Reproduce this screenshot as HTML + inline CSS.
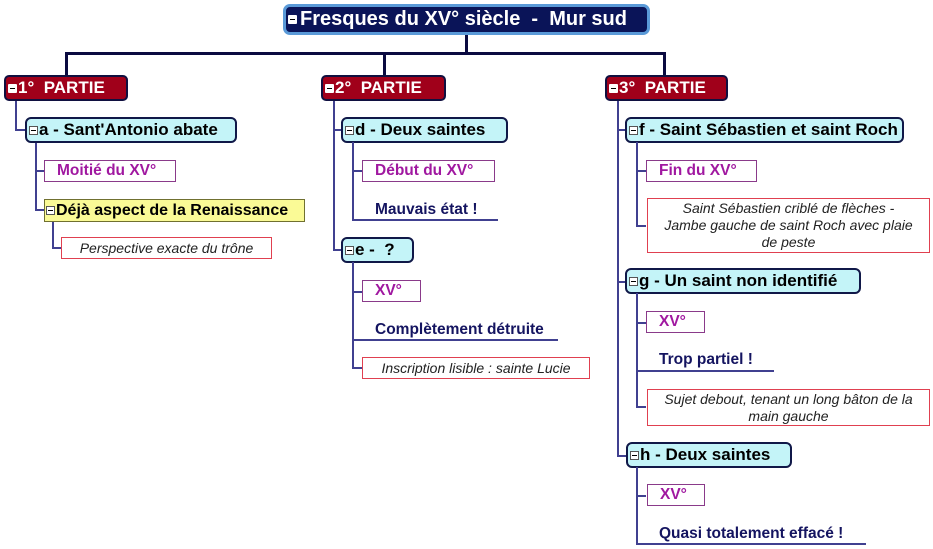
<!DOCTYPE html>
<html><head><meta charset="utf-8"><style>
body{margin:0;width:933px;height:549px;background:#fff;position:relative;overflow:hidden;font-family:"Liberation Sans",sans-serif;}
div{position:absolute;box-sizing:border-box;white-space:nowrap;}
.l{background:#404090;}
.lb{background:#0a0a40;}
.root{left:283px;top:4px;width:367px;height:31px;background:#0a1458;border:3px solid #5a9ad8;border-radius:7px;color:#fff;font-weight:bold;font-size:20px;line-height:25px;padding-left:14px;}
.p{height:26px;background:#a0001a;border:2px solid #101040;border-radius:5px;color:#fff;font-weight:bold;font-size:17px;line-height:22px;padding-left:12px;}
.c{height:26px;background:#c4f4f8;border:2px solid #101848;border-radius:6px;color:#000;font-weight:bold;font-size:17px;line-height:22px;padding-left:12px;}
.m{height:22px;background:#fff;border:1px solid #8a3a8a;color:#a018a0;font-weight:bold;font-size:15.5px;line-height:20px;padding-left:12px;}
.n{border:1px solid #e04050;color:#222;font-style:italic;font-size:14px;line-height:17px;text-align:center;background:#fff;}
.t{color:#141460;font-weight:bold;font-size:15.5px;}
.u{height:2px;background:#404090;}
.ic{width:9px;height:9px;border:1px solid #555;background:#fff;top:7px;left:2px;}
.ic:after{content:"";position:absolute;left:1px;top:3px;width:5px;height:1px;background:#000;}
.icw{width:9px;height:9px;background:#fff;top:7px;left:2px;border-radius:1px;}
.icw:after{content:"";position:absolute;left:2px;top:4px;width:5px;height:1px;background:#000;}
</style></head><body>
<div class="lb" style="left:465px;top:35px;width:3px;height:19px"></div>
<div class="lb" style="left:65px;top:52px;width:601px;height:3px"></div>
<div class="lb" style="left:65px;top:52px;width:3px;height:24px"></div>
<div class="lb" style="left:383px;top:52px;width:3px;height:24px"></div>
<div class="lb" style="left:663px;top:52px;width:3px;height:24px"></div>

<div class="root"><div class="icw" style="top:8px"></div>Fresques du XV° siècle &nbsp;- &nbsp;Mur sud</div>

<!-- Partie 1 -->
<div class="l" style="left:15px;top:100px;width:2px;height:30px"></div>
<div class="l" style="left:15px;top:129px;width:12px;height:2px"></div>
<div class="p" style="left:4px;top:75px;width:124px"><div class="icw"></div>1° &nbsp;PARTIE</div>
<div class="l" style="left:35px;top:142px;width:2px;height:68px"></div>
<div class="l" style="left:35px;top:170px;width:10px;height:2px"></div>
<div class="l" style="left:35px;top:209px;width:10px;height:2px"></div>
<div class="c" style="left:25px;top:117px;width:212px"><div class="ic"></div>a - Sant'Antonio abate</div>
<div class="m" style="left:44px;top:160px;width:132px">Moitié du XV°</div>
<div class="l" style="left:52px;top:221px;width:2px;height:27px"></div>
<div class="l" style="left:52px;top:247px;width:10px;height:2px"></div>
<div style="left:44px;top:199px;width:261px;height:23px;background:#fafa96;border:1px solid #707030;font-weight:bold;font-size:16px;line-height:21px;padding-left:11px;"><div class="ic" style="top:6px;left:1px"></div>Déjà aspect de la Renaissance</div>
<div class="n" style="left:61px;top:237px;width:211px;height:22px;line-height:20px">Perspective exacte du trône</div>

<!-- Partie 2 -->
<div class="l" style="left:333px;top:100px;width:2px;height:150px"></div>
<div class="l" style="left:333px;top:129px;width:10px;height:2px"></div>
<div class="l" style="left:333px;top:249px;width:10px;height:2px"></div>
<div class="p" style="left:321px;top:75px;width:125px"><div class="icw"></div>2° &nbsp;PARTIE</div>
<div class="c" style="left:341px;top:117px;width:167px"><div class="ic"></div>d - Deux saintes</div>
<div class="l" style="left:352px;top:142px;width:2px;height:78px"></div>
<div class="l" style="left:352px;top:170px;width:10px;height:2px"></div>
<div class="m" style="left:362px;top:160px;width:133px">Début du XV°</div>
<div class="t" style="left:375px;top:201px">Mauvais état !</div>
<div class="u" style="left:352px;top:219px;width:146px"></div>
<div class="c" style="left:341px;top:237px;width:73px"><div class="ic"></div>e - &nbsp;?</div>
<div class="l" style="left:352px;top:262px;width:2px;height:106px"></div>
<div class="l" style="left:352px;top:291px;width:10px;height:2px"></div>
<div class="l" style="left:352px;top:367px;width:10px;height:2px"></div>
<div class="m" style="left:362px;top:280px;width:59px">XV°</div>
<div class="t" style="left:375px;top:321px">Complètement détruite</div>
<div class="u" style="left:352px;top:339px;width:206px"></div>
<div class="n" style="left:362px;top:357px;width:228px;height:22px;line-height:20px">Inscription lisible : sainte Lucie</div>

<!-- Partie 3 -->
<div class="l" style="left:617px;top:100px;width:2px;height:356px"></div>
<div class="l" style="left:617px;top:129px;width:10px;height:2px"></div>
<div class="l" style="left:617px;top:281px;width:10px;height:2px"></div>
<div class="l" style="left:617px;top:455px;width:10px;height:2px"></div>
<div class="p" style="left:605px;top:75px;width:123px"><div class="icw"></div>3° &nbsp;PARTIE</div>
<div class="c" style="left:625px;top:117px;width:279px"><div class="ic"></div>f - Saint Sébastien et saint Roch</div>
<div class="l" style="left:636px;top:142px;width:2px;height:84px"></div>
<div class="l" style="left:636px;top:170px;width:10px;height:2px"></div>
<div class="l" style="left:636px;top:225px;width:10px;height:2px"></div>
<div class="m" style="left:646px;top:160px;width:111px">Fin du XV°</div>
<div class="n" style="left:647px;top:198px;width:283px;height:55px;padding-top:1px">Saint Sébastien criblé de flèches -<br>Jambe gauche de saint Roch avec plaie<br>de peste</div>
<div class="c" style="left:625px;top:268px;width:236px"><div class="ic"></div>g - Un saint non identifié</div>
<div class="l" style="left:636px;top:293px;width:2px;height:114px"></div>
<div class="l" style="left:636px;top:322px;width:10px;height:2px"></div>
<div class="l" style="left:636px;top:406px;width:10px;height:2px"></div>
<div class="m" style="left:646px;top:311px;width:59px">XV°</div>
<div class="t" style="left:659px;top:351px">Trop partiel !</div>
<div class="u" style="left:636px;top:370px;width:138px"></div>
<div class="n" style="left:647px;top:389px;width:283px;height:37px;padding-top:1px">Sujet debout, tenant un long bâton de la<br>main gauche</div>
<div class="c" style="left:626px;top:442px;width:166px"><div class="ic"></div>h - Deux saintes</div>
<div class="l" style="left:636px;top:467px;width:2px;height:78px"></div>
<div class="l" style="left:636px;top:495px;width:10px;height:2px"></div>
<div class="m" style="left:647px;top:484px;width:58px">XV°</div>
<div class="t" style="left:659px;top:525px">Quasi totalement effacé !</div>
<div class="u" style="left:636px;top:543px;width:230px"></div>
</body></html>
